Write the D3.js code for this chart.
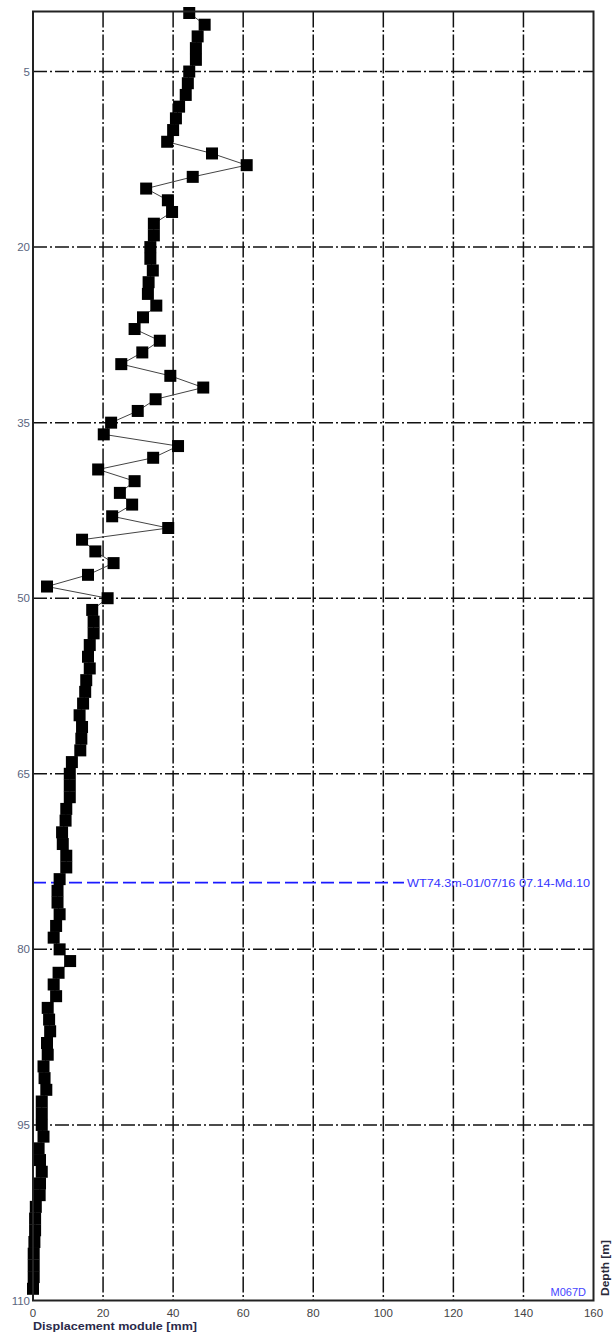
<!DOCTYPE html>
<html>
<head>
<meta charset="utf-8">
<script src="https://cdn.jsdelivr.net/npm/d3@7"></script>
<style>
  html, body { margin: 0; padding: 0; background: #fff; }
  svg { display: block; font-family: "Liberation Sans", Arial, sans-serif; }
</style>
</head>
<body>
<svg id="chart" width="613" height="1336"></svg>
<script>
// ---- data ----
const depths = [0,1,2,3,4,5,6,7,8,9,10,11,12,13,14,15,16,17,18,19,20,21,22,23,24,25,26,27,28,29,
  30,31,32,33,34,35,36,37,38,39,40,41,42,43,44,45,46,47,48,49,50,51,52,53,54,55,56,57,58,59,
  60,61,62,63,64,65,66,67,68,69,70,71,72,73,74,75,76,77,78,79,80,81,82,83,84,85,86,87,88,89,
  90,91,92,93,94,95,96,97,98,99,100,101,102,103,104,105,106,107,108,109];
const displacement = [44.6,49.0,47.0,46.5,46.5,44.6,44.2,43.6,41.7,40.8,40.0,38.3,51.1,61.0,45.6,32.3,38.5,39.7,34.5,34.5,
  33.5,33.5,34.2,33.0,32.8,35.2,31.4,29.0,36.2,31.2,25.2,39.2,48.6,35.0,29.9,22.3,20.2,41.4,34.3,18.6,
  29.0,24.8,28.3,22.6,38.6,14.0,17.8,23.0,15.7,4.0,21.3,16.9,17.3,17.3,16.2,15.7,16.2,15.2,14.9,14.3,
  13.3,14.0,13.8,13.5,11.1,10.5,10.5,10.5,9.5,9.3,8.3,8.5,9.5,9.5,7.6,7.0,7.0,7.6,6.6,5.9,
  7.6,10.6,7.3,5.9,6.6,4.2,4.6,4.9,4.0,4.2,3.0,3.3,3.8,2.5,2.5,2.5,3.0,1.6,2.0,2.5,
  2.0,1.9,0.8,0.6,0.6,0.4,0.2,0.2,0.2,0.0];
const xTicks = [0,20,40,60,80,100,120,140,160];
const yTicks = [5,20,35,50,65,80,95,110];
const xGrid = [20,40,60,80,100,120,140];
const yGrid = [5,20,35,50,65,80,95];
const waterTable = [74.3];
const waterLabel = ["WT74.3m-01/07/16 07.14-Md.10"];
const xTitle = "Displacement module [mm]";
const yTitle = "Depth [m]";
const boreName = "M067D";

// ---- scales ----
const svg = d3.select("#chart");
const x = d3.scaleLinear().domain([0,160]).range([33,593.5]);
const y = d3.scaleLinear().domain([0,110]).range([13,1300.5]);
const frameTop = 11.5;

// grid
const g = svg.append("g");
g.selectAll(".vg").data(xGrid).join("line")
  .attr("x1", d=>x(d)).attr("x2", d=>x(d)).attr("y1", frameTop).attr("y2", y(110))
  .attr("stroke","#111").attr("stroke-width",1.5).attr("stroke-dasharray","16,2.5,2,2.5");
g.selectAll(".hg").data(yGrid).join("line")
  .attr("x1", x(0)).attr("x2", x(160)).attr("y1", d=>y(d)).attr("y2", d=>y(d))
  .attr("stroke","#111").attr("stroke-width",1.5).attr("stroke-dasharray","14,3,2,3");

// water table line
svg.selectAll(".wt").data(waterTable).join("line")
  .attr("x1", x(0)).attr("x2", 404).attr("y1", d=>y(d)).attr("y2", d=>y(d))
  .attr("stroke","#1a1aff").attr("stroke-width",1.6).attr("stroke-dasharray","13,5");
svg.selectAll(".wtl").data(waterTable).join("text")
  .attr("x", 407).attr("y", d=>y(d)+4)
  .attr("font-size", 10.5).attr("fill","#3434ff").attr("textLength",183).attr("lengthAdjust","spacingAndGlyphs")
  .text((d,i)=>waterLabel[i]);

// data line
const pts = depths.map((d,i)=>[displacement[i], d]);
svg.append("path").datum(pts)
  .attr("fill","none").attr("stroke","#444").attr("stroke-width",1)
  .attr("d", d3.line().x(d=>x(d[0])).y(d=>y(d[1])));
svg.selectAll(".m").data(pts).join("rect")
  .attr("x", d=>x(d[0])-6).attr("y", d=>y(d[1])-6)
  .attr("width",12).attr("height",12).attr("fill","#000");

// frame
svg.append("rect").attr("x", x(0)).attr("y", frameTop)
  .attr("width", x(160)-x(0)).attr("height", y(110)-frameTop)
  .attr("fill","none").attr("stroke","#222").attr("stroke-width",2);

// y tick labels
svg.selectAll(".yl").data(yTicks).join("text")
  .attr("x", 30).attr("y", d=>y(d)+4).attr("text-anchor","end")
  .attr("font-size",11.5).attr("fill","#5a6580").text(d=>d);
// x tick labels
svg.selectAll(".xl").data(xTicks).join("text")
  .attr("x", d=>x(d)).attr("y", 1317).attr("text-anchor","middle")
  .attr("font-size",11.5).attr("fill","#444").text(d=>d);

svg.append("text").attr("x", 33).attr("y", 1330)
  .attr("font-size",11).attr("font-weight","bold").attr("fill","#2a2a4a")
  .attr("textLength",164).attr("lengthAdjust","spacingAndGlyphs").text(xTitle);
svg.append("text").attr("transform","translate(609,1268) rotate(-90)")
  .attr("text-anchor","middle").attr("font-size",10.5).attr("font-weight","bold").attr("fill","#2a2a3a")
  .attr("textLength",56).attr("lengthAdjust","spacingAndGlyphs").text(yTitle);
svg.append("text").attr("x", 586).attr("y", 1296).attr("text-anchor","end")
  .attr("font-size",11).attr("fill","#4646ff").text(boreName);
</script>
</body>
</html>
